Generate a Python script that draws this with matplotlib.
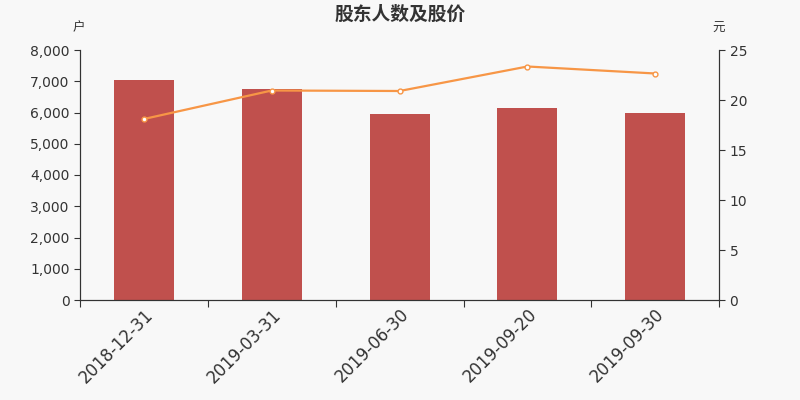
import matplotlib.pyplot as plt
from matplotlib.ticker import FuncFormatter

plt.rcParams['font.family'] = ['DejaVu Sans', 'Noto Sans CJK SC']

dates = ["2018-12-31", "2019-03-31", "2019-06-30", "2019-09-20", "2019-09-30"]
holders = [7040, 6750, 5950, 6140, 5970]
price = [18.1, 20.95, 20.9, 23.35, 22.65]

bg = "#f8f8f8"
fig = plt.figure(figsize=(8, 4), dpi=100, facecolor=bg)
ax = fig.add_axes([0.1, 0.25, 0.799, 0.625], facecolor=bg)
ax2 = ax.twinx()

x = list(range(len(dates)))
ax.bar(x, holders, width=0.47, color="#c0504d", zorder=2)
ax2.plot(x, price, color="#f79646", lw=1.6, marker="o", ms=3.5,
         mfc="white", mec="#f79646", mew=1, zorder=3)

ax.set_xlim(-0.5, len(dates) - 0.5)
ax.set_ylim(0, 8000)
ax.set_yticks(range(0, 8001, 1000))
ax.yaxis.set_major_formatter(FuncFormatter(lambda v, p: f"{int(v):,}"))
ax2.set_ylim(0, 25)
ax2.set_yticks(range(0, 26, 5))

# ticks on category boundaries, labels in the middle
ax.set_xticks([i - 0.5 for i in range(len(dates) + 1)])
ax.set_xticklabels([])
ax.set_xticks(x, minor=True)
ax.set_xticklabels(dates, minor=True, rotation=45, ha="right",
                   rotation_mode="anchor", fontsize=12, color="#333333")
ax.tick_params(axis="x", which="minor", length=0, pad=4)
ax.tick_params(axis="x", which="major", length=5, color="#333333")

for a in (ax, ax2):
    a.spines["top"].set_visible(False)
    for s in ("left", "right", "bottom"):
        a.spines[s].set_color("#333333")
    a.tick_params(axis="y", labelsize=10, labelcolor="#333333",
                  color="#333333", length=4)

cjk = ['Noto Sans CJK SC', 'DejaVu Sans']
fig.text(0.5, 0.965, "股东人数及股价", ha="center", va="center", family=cjk,
         fontsize=13.5, fontweight="bold", color="#333333")
fig.text(0.098, 0.93, "户", ha="center", va="center", family=cjk,
         fontsize=9, color="#333333")
fig.text(0.898, 0.93, "元", ha="center", va="center", family=cjk,
         fontsize=9, color="#333333")

fig.savefig("out.png", dpi=100, facecolor=bg)
